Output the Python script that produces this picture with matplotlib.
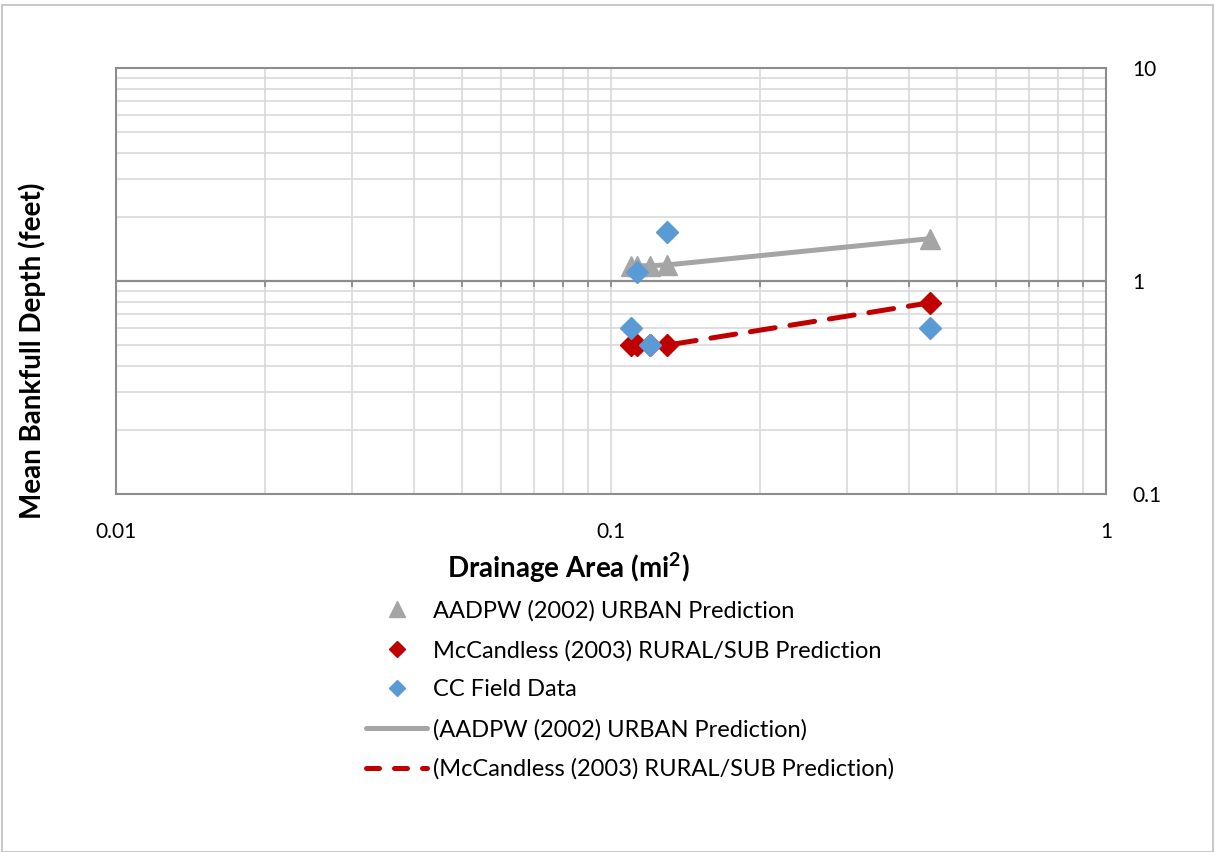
import numpy as np
import matplotlib
matplotlib.use("Agg")
import matplotlib.pyplot as plt
from matplotlib.ticker import LogLocator, NullFormatter, FixedLocator, FixedFormatter
from matplotlib.lines import Line2D
from matplotlib.patches import Rectangle

plt.rcParams['font.family'] = ['Lato', 'DejaVu Sans']

# ---- data ----
area = [0.11, 0.113, 0.12, 0.13, 0.44]
urban_pred = [1.17, 1.18, 1.18, 1.19, 1.58]
rural_pred = [0.50, 0.50, 0.50, 0.50, 0.79]
field_area = [0.11, 0.113, 0.12, 0.13, 0.44]
field_depth = [0.60, 1.10, 0.50, 1.70, 0.60]

x_ticks = [0.01, 0.1, 1]
x_tick_labels = ['0.01', '0.1', '1']
y_ticks = [0.1, 1, 10]
y_tick_labels = ['0.1', '1', '10']

labels = ['AADPW (2002) URBAN Prediction',
          'McCandless (2003) RURAL/SUB Prediction',
          'CC Field Data',
          '(AADPW (2002) URBAN Prediction)',
          '(McCandless (2003) RURAL/SUB Prediction)']

GRAY = '#A5A5A5'
RED = '#C00000'
BLUE = '#5B9BD5'
GRID = '#D9D9D9'
AXIS = '#8C8C8C'

fig = plt.figure(figsize=(12.15, 8.52), dpi=100)
fig.patches.append(Rectangle((0.002, 0.0), 0.996, 0.994, transform=fig.transFigure,
                             fill=False, edgecolor='#BFBFBF', lw=1.2))

ax = fig.add_axes([116/1215, 1-494/852, (1106-116)/1215, (494-68)/852])
ax.set_xscale('log')
ax.set_yscale('log')
ax.set_xlim(0.01, 1)
ax.set_ylim(0.1, 10)

ax.xaxis.set_major_locator(FixedLocator(x_ticks))
ax.xaxis.set_major_formatter(FixedFormatter(x_tick_labels))
ax.yaxis.set_major_locator(FixedLocator(y_ticks))
ax.yaxis.set_major_formatter(FixedFormatter(y_tick_labels))
ax.xaxis.set_minor_locator(LogLocator(base=10, subs=np.arange(2, 10)))
ax.yaxis.set_minor_locator(LogLocator(base=10, subs=np.arange(2, 10)))
ax.xaxis.set_minor_formatter(NullFormatter())
ax.yaxis.set_minor_formatter(NullFormatter())

ax.grid(True, which='both', color=GRID, lw=1.2, zorder=0)
ax.set_axisbelow(True)
for s in ax.spines.values():
    s.set_color(AXIS)
    s.set_linewidth(1.5)

ax.yaxis.tick_right()
ax.tick_params(axis='both', which='both', length=0)
ax.tick_params(axis='x', pad=20, labelsize=15)
ax.tick_params(axis='y', pad=19, labelsize=15)
for lbl in ax.get_yticklabels():
    lbl.set_ha('left')

# horizontal axis line crossing at y=1 with tick marks
ax.axhline(1, color=AXIS, lw=1.6, zorder=1)
tick_pos = [m * 10.0**e for e in (-2, -1) for m in range(1, 10)] + [1.0]
ax.plot(tick_pos, [1]*len(tick_pos), ls='none', marker=3, ms=4, mew=1.3,
        color=AXIS, zorder=1, clip_on=False)

fig.text(32/1215, 1-351/852, 'Mean Bankfull Depth (feet)', rotation=90,
         ha='center', va='center', fontsize=20, fontweight='bold')
fig.text(568/1215, 1-568/852, 'Drainage Area (mi$^{\\mathregular{2}}$)',
         ha='center', va='center', fontsize=20, fontweight='bold')

# trend lines
ax.plot(area, urban_pred, color=GRAY, lw=3.6, solid_capstyle='round', zorder=3)
ax.plot(area, rural_pred, color=RED, lw=3.6, dashes=(5, 3), dash_capstyle='round', zorder=3)

# markers
ax.plot(area, urban_pred, ls='none', marker='^', ms=15, color=GRAY, zorder=4)
ax.plot(area, rural_pred, ls='none', marker='D', ms=11, color=RED, zorder=5)
ax.plot(field_area, field_depth, ls='none', marker='D', ms=11, color=BLUE, zorder=6)

handles = [
    Line2D([], [], ls='none', marker='^', ms=12, color=GRAY),
    Line2D([], [], ls='none', marker='D', ms=8.5, color=RED),
    Line2D([], [], ls='none', marker='D', ms=8.5, color=BLUE),
    Line2D([], [], color=GRAY, lw=3.6, solid_capstyle='round'),
    Line2D([], [], color=RED, lw=3.6, dashes=(2.6, 3.0), dash_capstyle='round'),
]
fig.legend(handles, labels, loc='upper left', bbox_to_anchor=(366/1215, 1-600/852),
           frameon=False, fontsize=17, handlelength=2.6, handletextpad=0.25,
           labelspacing=0.77, borderpad=0, borderaxespad=0)

fig.savefig('out.png', dpi=100)
